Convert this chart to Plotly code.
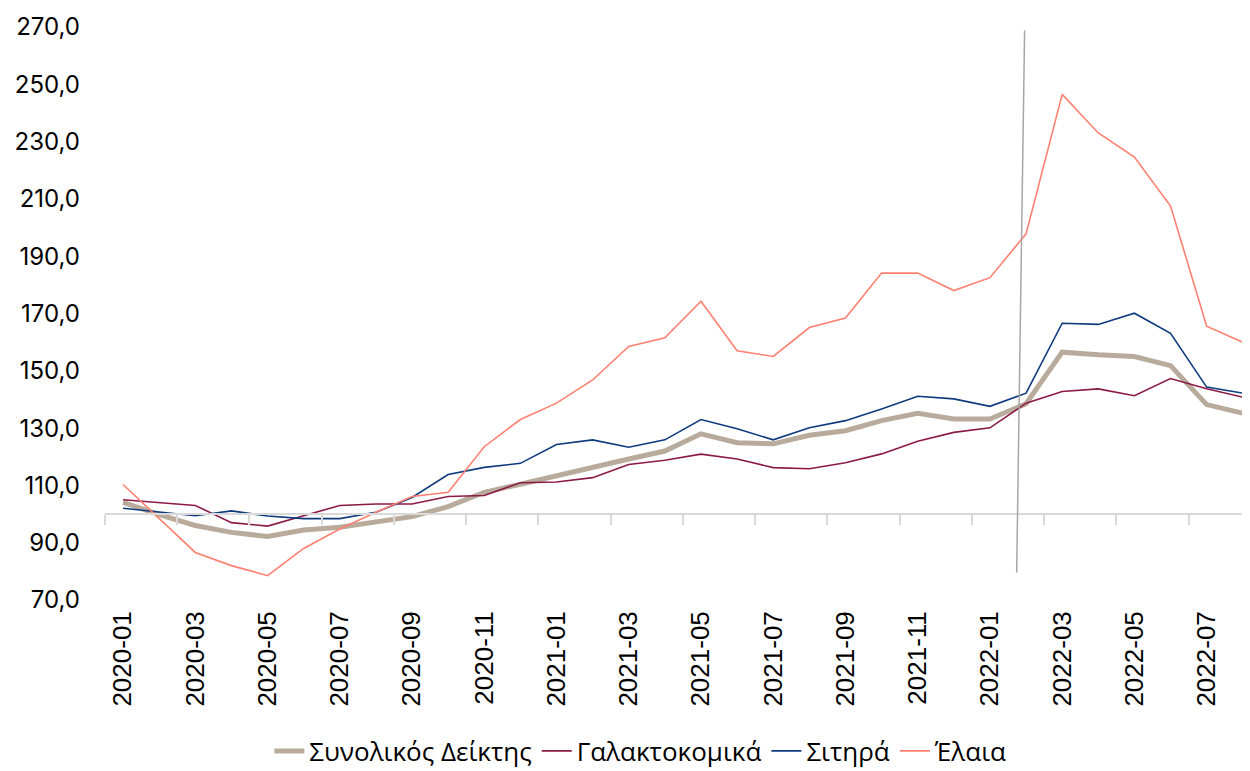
import plotly.graph_objects as go

months = ["2020-01","2020-02","2020-03","2020-04","2020-05","2020-06","2020-07","2020-08",
          "2020-09","2020-10","2020-11","2020-12","2021-01","2021-02","2021-03","2021-04",
          "2021-05","2021-06","2021-07","2021-08","2021-09","2021-10","2021-11","2021-12",
          "2022-01","2022-02","2022-03","2022-04","2022-05","2022-06","2022-07","2022-08"]

synolikos = [104.1, 99.8, 96.0, 93.6, 92.2, 94.4, 95.4, 97.1, 99.1, 102.6, 107.6, 110.4,
             113.4, 116.6, 119.2, 122.0, 128.0, 124.9, 124.5, 127.5, 129.1, 132.6, 135.2, 133.2,
             133.2, 138.5, 156.5, 155.6, 155.0, 151.8, 138.2, 135.2]
galaktokomika = [105.0, 104.1, 103.0, 97.0, 95.8, 99.4, 103.0, 103.5, 103.5, 106.1, 106.5, 110.9,
                 111.2, 112.7, 117.3, 118.8, 120.9, 119.2, 116.2, 115.8, 117.9, 121.0, 125.4, 128.5,
                 130.1, 138.7, 142.8, 143.7, 141.3, 147.3, 143.7, 140.8]
sitira = [102.0, 100.8, 99.4, 101.1, 99.3, 98.4, 98.4, 100.6, 105.8, 113.8, 116.3, 117.7,
          124.3, 125.9, 123.3, 125.9, 133.0, 129.8, 125.9, 130.1, 132.6, 136.7, 141.1, 140.2,
          137.6, 142.2, 166.6, 166.2, 170.1, 163.1, 144.3, 142.2]
elaia = [110.3, 98.5, 86.6, 82.0, 78.5, 88.0, 94.8, 100.6, 106.1, 107.6, 123.5, 133.0,
         138.7, 146.8, 158.5, 161.5, 174.3, 157.0, 155.0, 165.1, 168.4, 184.1, 184.1, 178.0,
         182.5, 197.8, 246.5, 233.0, 224.6, 207.5, 165.6, 160.0]

series_names = ["Συνολικός Δείκτης", "Γαλακτοκομικά", "Σιτηρά", "Έλαια"]
y_ticks = [70, 90, 110, 130, 150, 170, 190, 210, 230, 250, 270]
x_tick_labels = months[::2]

colors = ["#b8ab9c", "#8c1a47", "#0e3a7e", "#ff8070"]
widths = [5, 1.6, 1.6, 1.6]

fig = go.Figure()
for name, vals, c, w in zip(series_names, [synolikos, galaktokomika, sitira, elaia], colors, widths):
    fig.add_trace(go.Scatter(x=months, y=vals, mode="lines", name=name,
                             line=dict(color=c, width=w), hoverinfo="skip"))

n = len(months)
xr = [-0.5, n - 0.8]
boundary_ticks = [i - 0.5 for i in range(0, n, 2)]

# helper (empty) trace so the baseline axis at 100 is drawn
fig.add_trace(go.Scatter(x=[None], y=[None], xaxis="x2", yaxis="y", mode="lines",
                         showlegend=False, hoverinfo="skip"))

H = 790
plot_h = 573
fig.update_layout(
    width=1250, height=H,
    margin=dict(l=97, r=8, t=19, b=H - 19 - plot_h),
    paper_bgcolor="white", plot_bgcolor="white",
    separators=",.",
    font=dict(family="Inter", size=24, color="#000000"),
    showlegend=True,
    legend=dict(orientation="h", x=0.468, xanchor="center", y=-151 / plot_h, yanchor="middle",
                font=dict(family="Open Sans", size=26, color="#000000"), tracegroupgap=0,
                bgcolor="rgba(0,0,0,0)"),
    xaxis=dict(type="category", range=xr, tickmode="array", tickvals=x_tick_labels,
               ticktext=x_tick_labels, tickangle=-90, showline=False, ticks="",
               showgrid=False, zeroline=False, automargin=False, ticklabelstandoff=5,
               tickfont=dict(family="Liberation Sans", size=26, color="#000000")),
    xaxis2=dict(overlaying="x", anchor="free", position=(100 - 70) / (270 - 70),
                type="linear", range=xr, tickmode="array", tickvals=boundary_ticks,
                ticks="outside", ticklen=10, tickcolor="#d9d9d9", tickwidth=1.5,
                showline=True, linecolor="#d9d9d9", linewidth=1.5,
                showticklabels=False, showgrid=False, zeroline=False),
    yaxis=dict(range=[70, 270], tickmode="array", tickvals=y_ticks, tickformat=".1f",
               showgrid=False, zeroline=False, showline=False, ticks="",
               ticklabelstandoff=24, automargin=False,
               tickfont=dict(family="Inter", size=24, color="#000000")),
)

# separator line near 2022-02
fig.add_shape(type="line", xref="x", yref="y", x0=24.96, y0=268.8, x1=24.74, y1=79.6,
              line=dict(color="#a6a6a6", width=1.5), layer="above")

fig.write_html("out.html")
